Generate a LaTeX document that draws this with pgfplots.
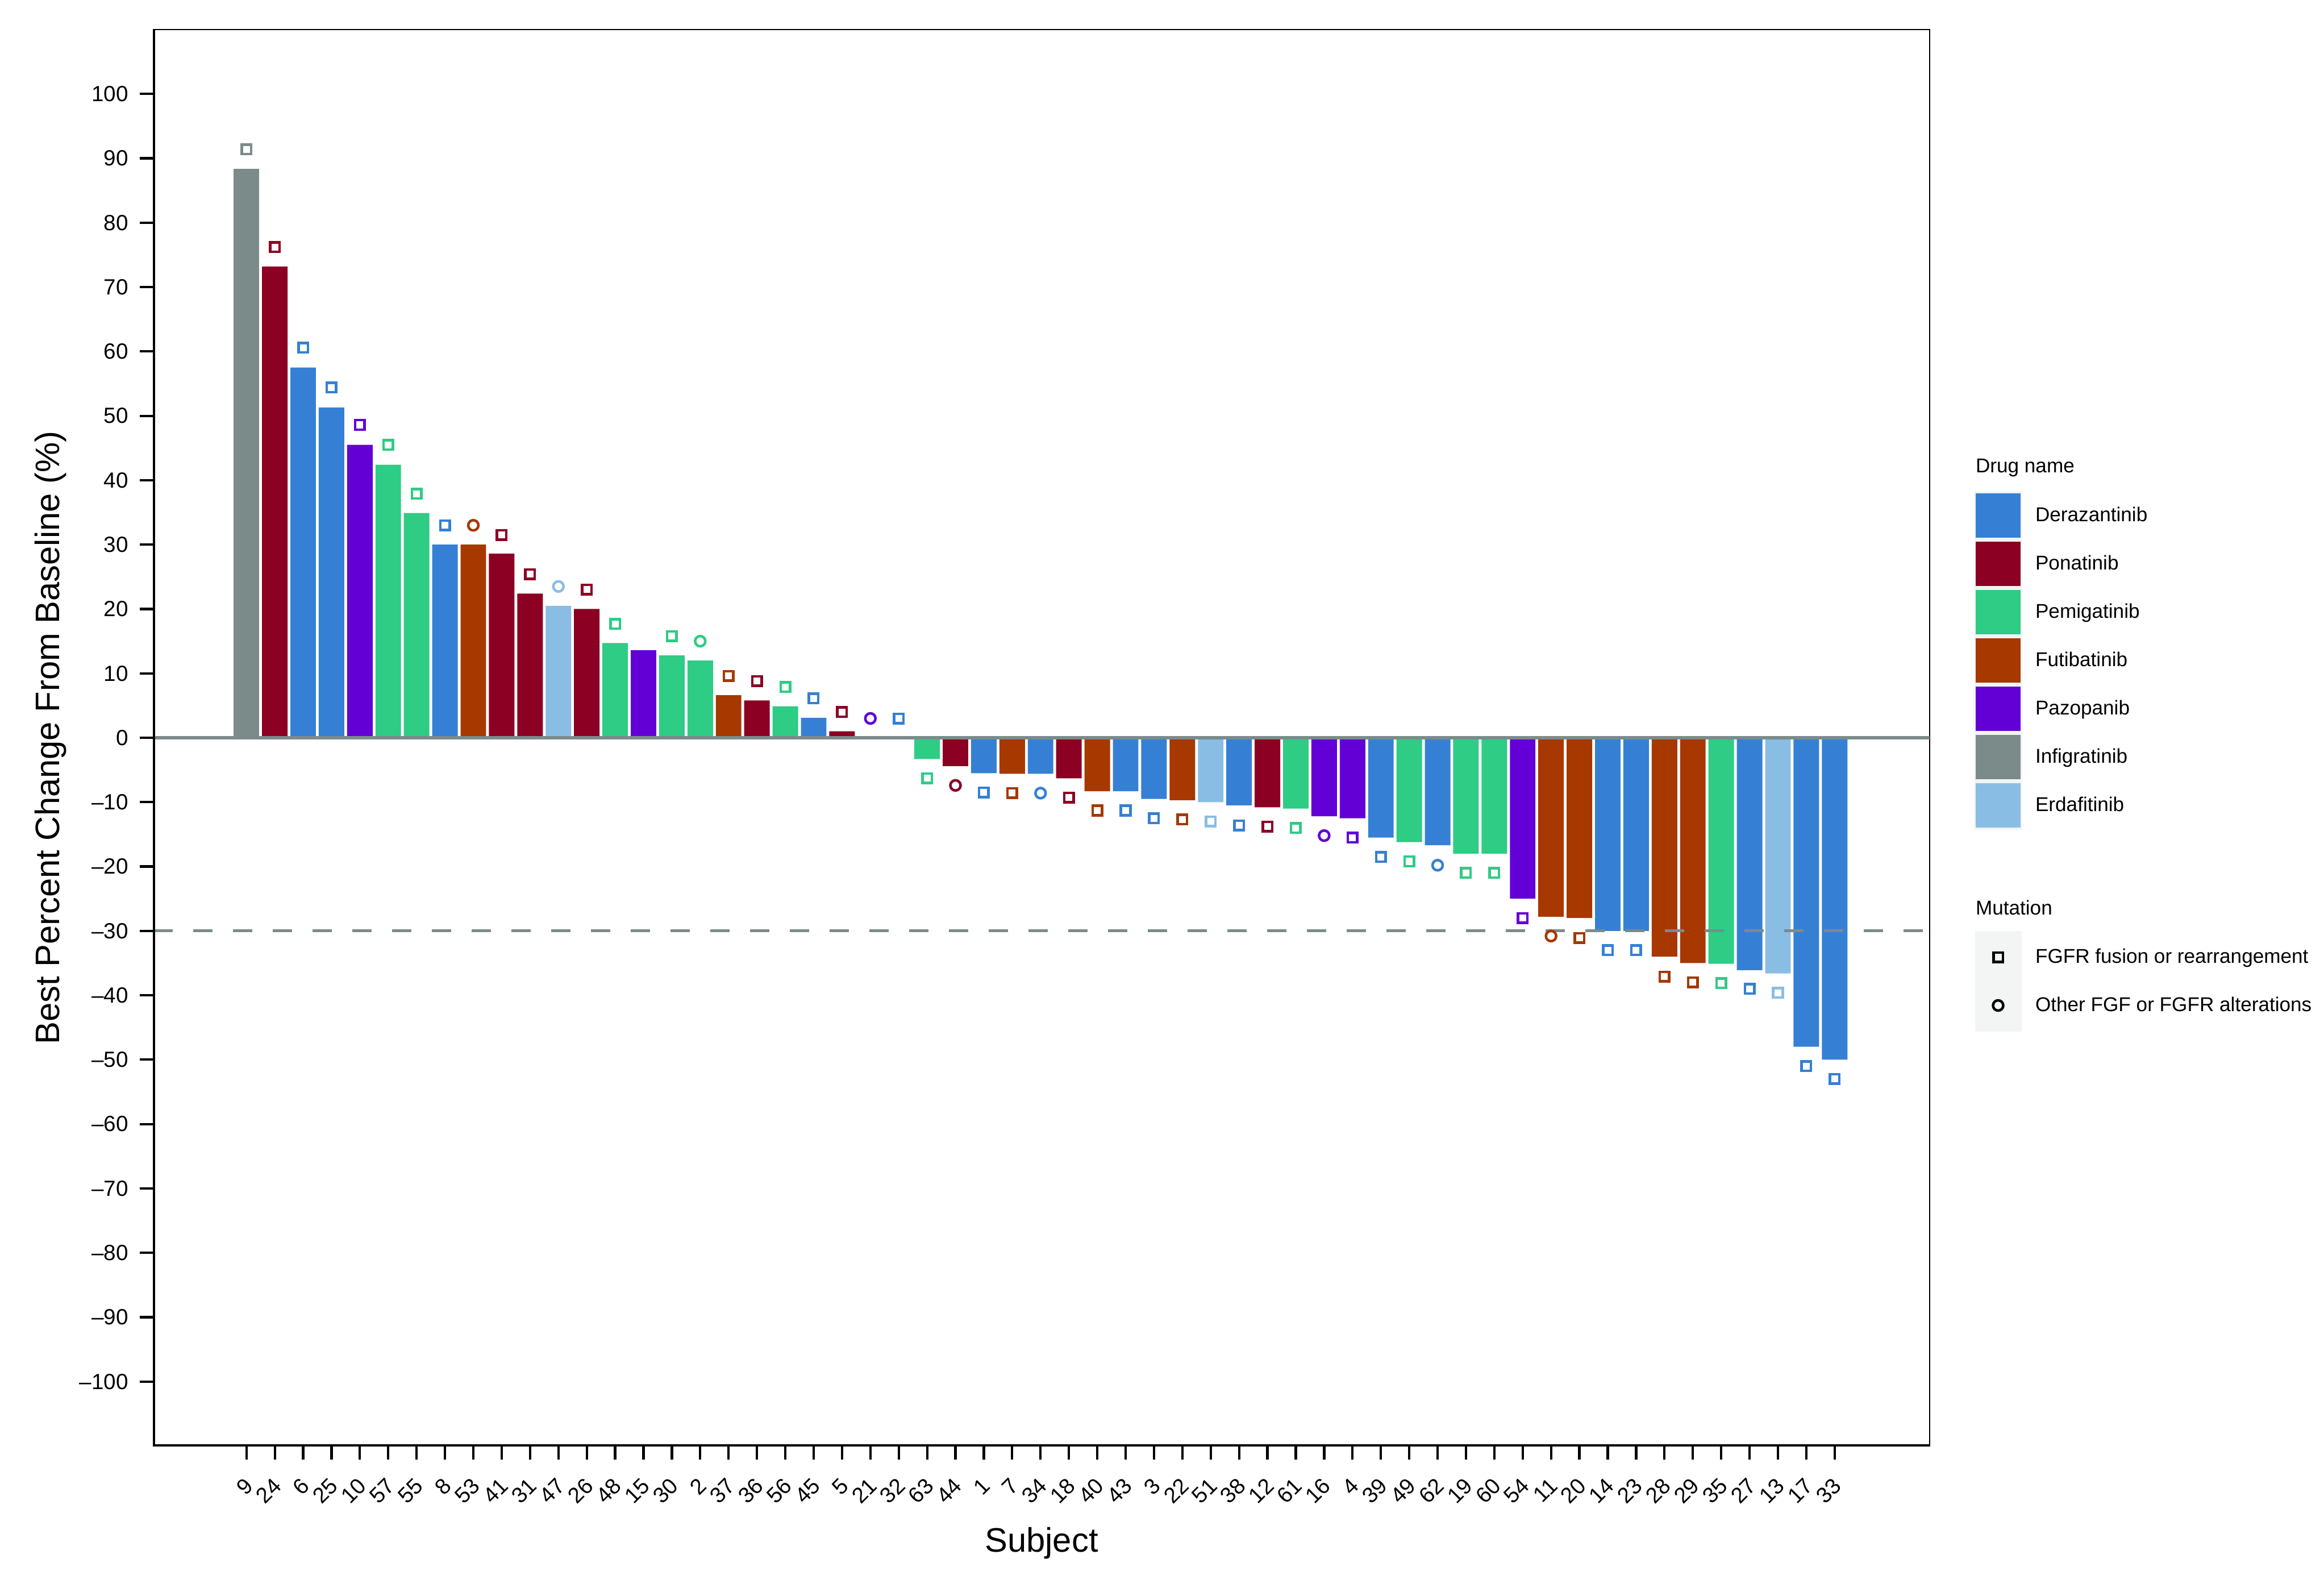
\documentclass[border=0pt]{standalone}
\usepackage{fontspec}
\setmainfont{Liberation Sans}
\usepackage{pgfplots}
\pgfplotsset{compat=1.18}

\definecolor{cDer}{HTML}{3580D4}
\definecolor{cPon}{HTML}{8B0023}
\definecolor{cPem}{HTML}{2ECC84}
\definecolor{cFut}{HTML}{A63800}
\definecolor{cPaz}{HTML}{6200D6}
\definecolor{cInf}{HTML}{7B8B8A}
\definecolor{cErd}{HTML}{8ABDE3}
\definecolor{refline}{HTML}{7B8B8A}
\definecolor{keybg}{HTML}{F3F4F4}

\pgfplotsset{
  swatch/.style={legend image code/.code={
      \fill[keybg,draw=none,overlay] (-0.03cm,-0.43cm) rectangle (0.82cm,0.43cm);
      \fill[#1,draw=none] (0cm,-0.39cm) rectangle (0.79cm,0.39cm);}},
  drugbar/.style={ybar, bar width=0.9, bar shift=0pt, fill=#1, draw=none, swatch=#1},
  sq/.style={only marks, mark=square, mark size=2.35pt, line width=1.28pt, color=#1, forget plot},
  ci/.style={only marks, mark=o, mark size=2.56pt, line width=1.28pt, color=#1, forget plot},
  blankrow/.style={legend image code/.code={\path[draw=none,fill=none] (0cm,-#1) rectangle (0.79cm,#1);}},
}

\begin{document}
\begin{tikzpicture}
\useasboundingbox (-2.70cm,-2.63cm) rectangle (38.20cm,25.44cm);
\begin{axis}[
    at={(0,0)}, anchor=south west,
    scale only axis,
    width=31.26cm, height=24.92cm,
    xmin=-3.28, xmax=59.35,
    ymin=-110, ymax=110,
    axis line style={black, line width=0.7pt},
    tick align=outside,
    xtick pos=bottom, ytick pos=left,
    major tick length=0.24cm,
    major tick style={black, line width=1.2pt},
    xtick={0,...,56},
    xticklabels={9,24,6,25,10,57,55,8,53,41,31,47,26,48,15,30,2,37,36,56,45,5,21,32,63,44,1,7,34,18,40,43,3,22,51,38,12,61,16,4,39,49,62,19,60,54,11,20,14,23,28,29,35,27,13,17,33},
    ytick={-100,-90,...,100},
    yticklabels={–100,–90,–80,–70,–60,–50,–40,–30,–20,–10,0,10,20,30,40,50,60,70,80,90,100},
    tick label style={font=\fontsize{11}{13}\selectfont},
    xticklabel style={xshift=0.13cm, yshift=-0.31cm, rotate=45, anchor=east},
    yticklabel style={xshift=-0.08cm},
    xlabel={Subject},
    ylabel={Best Percent Change From Baseline (\%)},
    label style={font=\fontsize{17}{20}\selectfont},
    xlabel style={at={(rel axis cs:0.5,-0.0686)}, anchor=center},
    ylabel style={at={(rel axis cs:-0.0579,0.5)}, anchor=center},
    legend cell align=left,
    legend style={draw=none, fill=none, inner sep=0pt, outer sep=0pt,
        row sep=0.07cm, column sep=0.26cm,
        nodes={inner sep=0pt, anchor=west},
        font=\fontsize{10}{12}\selectfont,
        at={(rel axis cs:1,1)}, anchor=north west,
        xshift=0.81cm, yshift=-7.31cm},
]

\addlegendimage{blankrow=0.39cm}
\addlegendentry{\hspace*{-1.05cm}Drug name}

\addplot[drugbar=cDer] coordinates {
  (2,57.5) (3,51.3) (7,30.0) (20,3.1) (26,-5.5) (28,-5.6) (31,-8.3) (32,-9.5)
  (35,-10.5) (40,-15.5) (42,-16.7) (48,-30.0) (49,-30.0) (53,-36.1) (55,-48.0) (56,-50.0)
};
\addlegendentry{Derazantinib}
\addplot[drugbar=cPon] coordinates {
  (1,73.2) (9,28.6) (10,22.4) (12,20.0) (18,5.8) (21,1.0) (25,-4.4) (29,-6.3) (36,-10.8)
};
\addlegendentry{Ponatinib}
\addplot[drugbar=cPem] coordinates {
  (5,42.4) (6,34.9) (13,14.7) (15,12.8) (16,12.0) (19,4.9) (24,-3.3) (37,-11.0)
  (41,-16.2) (43,-18.0) (44,-18.0) (52,-35.1)
};
\addlegendentry{Pemigatinib}
\addplot[drugbar=cFut] coordinates {
  (8,30.0) (17,6.6) (27,-5.6) (30,-8.3) (33,-9.7) (46,-27.8) (47,-28.0) (50,-34.0) (51,-35.0)
};
\addlegendentry{Futibatinib}
\addplot[drugbar=cPaz] coordinates {
  (4,45.5) (14,13.6) (38,-12.2) (39,-12.5) (45,-25.0)
};
\addlegendentry{Pazopanib}
\addplot[drugbar=cInf] coordinates {(0,88.4)};
\addlegendentry{Infigratinib}
\addplot[drugbar=cErd] coordinates {(11,20.5) (34,-10.0) (54,-36.6)};
\addlegendentry{Erdafitinib}

% mutation markers
\addplot[sq=cDer] coordinates {
  (2,60.6) (3,54.4) (7,33.0) (20,6.1) (23,3.0) (26,-8.5) (31,-11.3) (32,-12.5)
  (35,-13.6) (40,-18.5) (48,-33.0) (49,-33.0) (53,-39.0) (55,-51.0) (56,-53.0)
};
\addplot[ci=cDer] coordinates {(28,-8.6) (42,-19.8)};
\addplot[sq=cPon] coordinates {
  (1,76.2) (9,31.5) (10,25.4) (12,23.0) (18,8.8) (21,4.0) (29,-9.3) (36,-13.8)
};
\addplot[ci=cPon] coordinates {(25,-7.4)};
\addplot[sq=cPem] coordinates {
  (5,45.5) (6,37.9) (13,17.7) (15,15.8) (19,7.9) (24,-6.3) (37,-14.0) (41,-19.2)
  (43,-21.0) (44,-21.0) (52,-38.1)
};
\addplot[ci=cPem] coordinates {(16,15.0)};
\addplot[sq=cFut] coordinates {
  (17,9.6) (27,-8.6) (30,-11.3) (33,-12.7) (47,-31.1) (50,-37.1) (51,-38.0)
};
\addplot[ci=cFut] coordinates {(8,33.0) (46,-30.8)};
\addplot[sq=cPaz] coordinates {(4,48.6) (39,-15.5) (45,-28.0)};
\addplot[ci=cPaz] coordinates {(22,3.0) (38,-15.2)};
\addplot[sq=cInf] coordinates {(0,91.4)};
\addplot[sq=cErd] coordinates {(34,-13.0) (54,-39.6)};
\addplot[ci=cErd] coordinates {(11,23.5)};

\addlegendimage{blankrow=0.45cm}
\addlegendentry{}
\addlegendimage{blankrow=0.39cm}
\addlegendentry{\hspace*{-1.05cm}Mutation}
\addlegendimage{legend image code/.code={
    \fill[keybg,draw=none,overlay] (-0.01cm,-0.46cm) rectangle (0.81cm,0.46cm);
    \draw[black,fill=none,line width=1.28pt] (0.3125cm,-0.0825cm) rectangle (0.4775cm,0.0825cm);
    \path[draw=none,fill=none] (0cm,-0.39cm) rectangle (0.79cm,0.39cm);}}
\addlegendentry{FGFR fusion or rearrangement}
\addlegendimage{legend image code/.code={
    \fill[keybg,draw=none,overlay] (-0.01cm,-0.46cm) rectangle (0.81cm,0.46cm);
    \draw[black,fill=none,line width=1.28pt] (0.395cm,0cm) circle (0.09cm);
    \path[draw=none,fill=none] (0cm,-0.39cm) rectangle (0.79cm,0.39cm);}}
\addlegendentry{Other FGF or FGFR alterations}

% reference lines and heavy left/bottom axis
\draw[refline, line width=1.55pt] (axis cs:-3.28,0) -- (axis cs:59.35,0);
\draw[refline, line width=1.4pt, dash pattern=on 0.34cm off 0.36cm]
  (axis cs:-3.28,-30) -- (axis cs:59.35,-30);
\draw[black, line width=1.9pt] (rel axis cs:0,1) -- (rel axis cs:0,0) -- (rel axis cs:1,0);
\end{axis}
\end{tikzpicture}
\end{document}
